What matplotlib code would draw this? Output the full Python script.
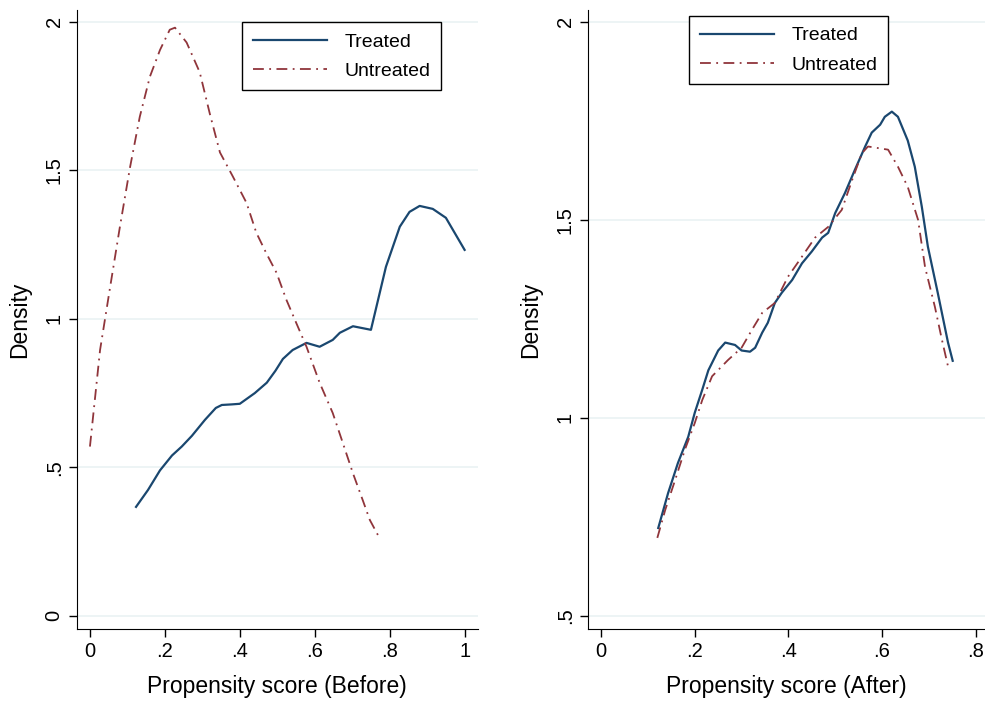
import matplotlib.pyplot as plt

plt.rcParams["font.family"] = ["Liberation Sans", "DejaVu Sans"]

# Before matching
before_treated_x = [0.123, 0.155, 0.187, 0.219, 0.245, 0.272, 0.307, 0.336, 0.352, 0.379, 0.40,
                    0.44, 0.472, 0.495, 0.515, 0.541, 0.578, 0.613, 0.648, 0.667, 0.702, 0.75,
                    0.79, 0.827, 0.853, 0.88, 0.915, 0.95, 1.0]
before_treated_y = [0.367, 0.424, 0.49, 0.54, 0.57, 0.606, 0.66, 0.70, 0.71, 0.712, 0.714,
                    0.75, 0.785, 0.825, 0.865, 0.895, 0.919, 0.906, 0.929, 0.953, 0.975, 0.963,
                    1.175, 1.31, 1.36, 1.38, 1.37, 1.34, 1.232]

before_untreated_x = [0.0, 0.027, 0.053, 0.08, 0.107, 0.133, 0.16, 0.187, 0.213, 0.227, 0.258,
                      0.293, 0.32, 0.347, 0.381, 0.418, 0.444, 0.471, 0.498, 0.524, 0.551,
                      0.578, 0.613, 0.648, 0.675, 0.702, 0.728, 0.747, 0.773]
before_untreated_y = [0.57, 0.895, 1.10, 1.31, 1.51, 1.68, 1.815, 1.905, 1.973, 1.98, 1.93,
                      1.83, 1.69, 1.56, 1.48, 1.39, 1.29, 1.22, 1.155, 1.065, 0.985,
                      0.906, 0.785, 0.683, 0.582, 0.48, 0.39, 0.323, 0.262]

# After matching
after_treated_x = [0.122, 0.143, 0.164, 0.186, 0.2, 0.216, 0.229, 0.25, 0.265, 0.286, 0.30,
                   0.318, 0.329, 0.344, 0.356, 0.371, 0.386, 0.408, 0.429, 0.45, 0.472, 0.485,
                   0.5, 0.521, 0.542, 0.564, 0.578, 0.596, 0.606, 0.621, 0.634, 0.655, 0.67,
                   0.685, 0.698, 0.719, 0.741, 0.751]
after_treated_y = [0.722, 0.81, 0.886, 0.952, 1.013, 1.071, 1.12, 1.17, 1.19, 1.184, 1.17,
                   1.167, 1.177, 1.215, 1.24, 1.29, 1.316, 1.348, 1.39, 1.42, 1.455, 1.467,
                   1.517, 1.568, 1.626, 1.685, 1.72, 1.74, 1.76, 1.773, 1.76, 1.70, 1.634,
                   1.533, 1.432, 1.316, 1.19, 1.144]

after_untreated_x = [0.12, 0.137, 0.158, 0.179, 0.2, 0.216, 0.237, 0.271, 0.30, 0.322, 0.344,
                     0.371, 0.399, 0.429, 0.457, 0.485, 0.514, 0.536, 0.557, 0.57, 0.613,
                     0.634, 0.655, 0.677, 0.692, 0.713, 0.728, 0.741]
after_untreated_y = [0.697, 0.768, 0.843, 0.92, 0.987, 1.045, 1.105, 1.146, 1.177, 1.222, 1.265,
                     1.29, 1.356, 1.407, 1.455, 1.482, 1.525, 1.60, 1.668, 1.685, 1.677,
                     1.634, 1.583, 1.5, 1.38, 1.28, 1.197, 1.13]

left_xticks = [0, 0.2, 0.4, 0.6, 0.8, 1.0]
left_xlabels = ["0", ".2", ".4", ".6", ".8", "1"]
left_yticks = [0, 0.5, 1.0, 1.5, 2.0]
left_ylabels = ["0", ".5", "1", "1.5", "2"]
right_xticks = [0, 0.2, 0.4, 0.6, 0.8]
right_xlabels = ["0", ".2", ".4", ".6", ".8"]
right_yticks = [0.5, 1.0, 1.5, 2.0]
right_ylabels = [".5", "1", "1.5", "2"]

navy = "#1a476f"
maroon = "#90353b"

fig = plt.figure(figsize=(9.85, 7.02), dpi=100)
ax1 = fig.add_axes([0.078, 0.104, 0.407, 0.882])
ax2 = fig.add_axes([0.597, 0.104, 0.403, 0.882])


def style(ax, xt, xl, yt, yl, xlabel):
    ax.set_xticks(xt)
    ax.set_xticklabels(xl, fontsize=14.5)
    ax.set_yticks(yt)
    ax.set_yticklabels(yl, fontsize=14.5, rotation=90, va="center")
    ax.grid(axis="y", color="#eaf2f3", linewidth=1.2)
    ax.set_axisbelow(True)
    for s in ["top", "right"]:
        ax.spines[s].set_visible(False)
    ax.tick_params(direction="out", length=6, width=1)
    ax.set_xlabel(xlabel, fontsize=16.5, labelpad=10)
    ax.set_ylabel("Density", fontsize=16.5, labelpad=10)


def add_legend(ax, anchor):
    leg = ax.legend(loc="upper left", bbox_to_anchor=anchor, fontsize=14, fancybox=False,
                    edgecolor="black", framealpha=1, handlelength=3.8, handletextpad=0.9,
                    borderpad=0.55, labelspacing=0.6, borderaxespad=0)
    leg.get_frame().set_linewidth(1)


ax1.plot(before_treated_x, before_treated_y, color=navy, lw=1.6, label="Treated")
ax1.plot(before_untreated_x, before_untreated_y, color=maroon, lw=1.3,
         linestyle=(0, (6, 3, 1, 3)), label="Untreated")
ax1.set_xlim(-0.035, 1.035)
ax1.set_ylim(-0.044, 2.04)
style(ax1, left_xticks, left_xlabels, left_yticks, left_ylabels, "Propensity score (Before)")
add_legend(ax1, (0.413, 0.98))

ax2.plot(after_treated_x, after_treated_y, color=navy, lw=1.6, label="Treated")
ax2.plot(after_untreated_x, after_untreated_y, color=maroon, lw=1.3,
         linestyle=(0, (6, 3, 1, 3)), label="Untreated")
ax2.set_xlim(-0.028, 0.82)
ax2.set_ylim(0.467, 2.03)
style(ax2, right_xticks, right_xlabels, right_yticks, right_ylabels, "Propensity score (After)")
add_legend(ax2, (0.255, 0.99))

fig.savefig("out.png", dpi=100)
